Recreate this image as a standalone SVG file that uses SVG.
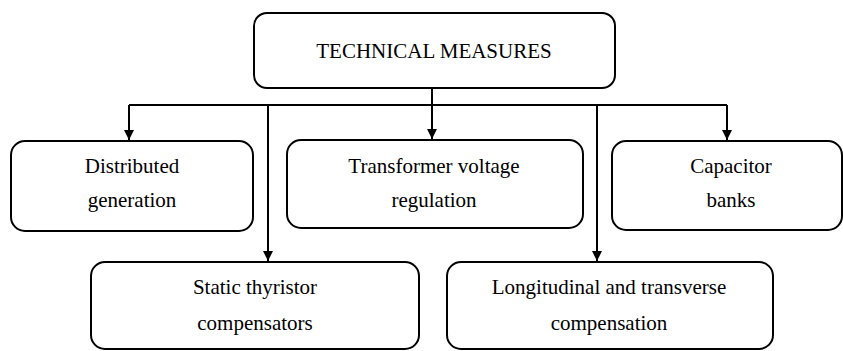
<svg xmlns="http://www.w3.org/2000/svg" width="843" height="351" viewBox="0 0 843 351">
<style>
.box{fill:#fff;stroke:#000;stroke-width:2}
.t{font-family:'Liberation Serif','Times New Roman','DejaVu Serif',serif;font-size:21px;fill:#000;text-anchor:middle}
.c{fill:none;stroke:#000;stroke-width:2}
</style>
<defs>
<marker id="ah" markerUnits="userSpaceOnUse" markerWidth="12" markerHeight="12" viewBox="0 0 12 12" refX="11" refY="6" orient="auto">
<path d="M1,1 L11,6 L1,11 Z" fill="#000"/>
</marker>
</defs>
<rect width="843" height="351" fill="#fff"/>
<g id="connectors">
<path class="c" d="M432,88 V105"/>
<path class="c" d="M129,105 H727"/>
<path class="c" d="M129,105 V140" marker-end="url(#ah)"/>
<path class="c" d="M432,105 V139" marker-end="url(#ah)"/>
<path class="c" d="M727,105 V140" marker-end="url(#ah)"/>
<path class="c" d="M268,105 V261" marker-end="url(#ah)"/>
<path class="c" d="M597,105 V261" marker-end="url(#ah)"/>
</g>
<g id="top">
<rect class="box" x="254" y="13" width="361" height="75" rx="13"/>
<text class="t" x="434" y="58">TECHNICAL MEASURES</text>
</g>
<g id="distributed">
<rect class="box" x="11" y="141" width="242" height="90" rx="14"/>
<text class="t" x="132" y="173">Distributed</text>
<text class="t" x="132" y="207">generation</text>
</g>
<g id="transformer">
<rect class="box" x="287" y="140" width="296" height="88" rx="14"/>
<text class="t" x="434" y="173">Transformer voltage</text>
<text class="t" x="434" y="207">regulation</text>
</g>
<g id="capacitor">
<rect class="box" x="612" y="141" width="230" height="89" rx="14"/>
<text class="t" x="731" y="173">Capacitor</text>
<text class="t" x="731" y="207">banks</text>
</g>
<g id="static">
<rect class="box" x="91" y="262" width="328" height="87" rx="14"/>
<text class="t" x="255" y="294">Static thyristor</text>
<text class="t" x="255" y="330">compensators</text>
</g>
<g id="longitudinal">
<rect class="box" x="447" y="262" width="326" height="87" rx="14"/>
<text class="t" x="609" y="294">Longitudinal and transverse</text>
<text class="t" x="609" y="330">compensation</text>
</g>
</svg>
